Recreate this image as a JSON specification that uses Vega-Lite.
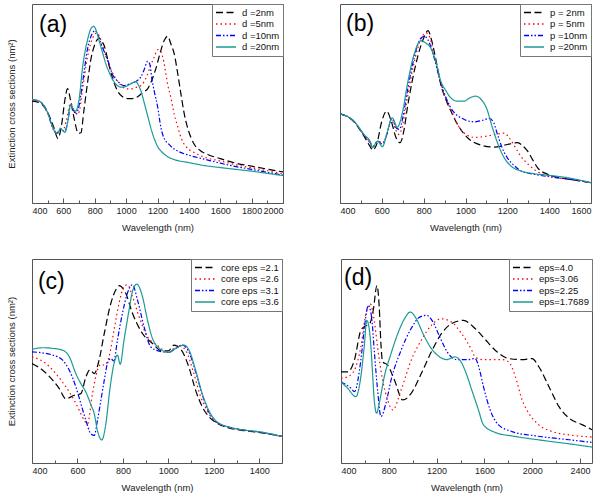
{
  "$schema": "https://vega.github.io/schema/vega-lite/v6.json",
  "padding": {"left": 5, "top": 3, "right": 5, "bottom": 5},
  "background": "white",
  "bounds": "full",
  "spacing": 26,
  "config": {
    "font": "Liberation Sans",
    "view": {"stroke": "#555555", "strokeWidth": 1},
    "axis": {"grid": false, "domain": false, "labelFontSize": 9, "titleFontSize": 9.5, "titleFontWeight": "normal", "labelColor": "#222222", "titleColor": "#222222", "tickColor": "#555555", "labelPadding": 8, "titlePadding": 7},
    "legend": {"orient": "top-right", "offset": 0, "padding": 3, "strokeColor": "#777777", "fillColor": "white", "symbolType": "stroke", "symbolSize": 400, "symbolStrokeWidth": 1.4, "labelFontSize": 9.5, "labelColor": "#111111", "rowPadding": 0.5, "clipHeight": 11, "labelOffset": 5, "cornerRadius": 0}
  },
  "resolve": {"scale": {"x": "independent", "y": "independent", "color": "independent", "strokeDash": "independent"}, "legend": {"color": "independent", "strokeDash": "independent"}},
  "vconcat": [
    {
      "hconcat": [
        {
          "width": 251, "height": 199,
          "encoding": {
            "x": {"field": "w", "type": "quantitative", "scale": {"domain": [400, 2000], "nice": false, "zero": false}, "axis": {"title": "Wavelength (nm)", "values": [400,500,600,700,800,900,1000,1100,1200,1300,1400,1500,1600,1700,1800,1900,2000], "format": "d", "labelExpr": "datum.value % 200 === 0 ? datum.label : ''", "tickSize": {"condition": {"test": "datum.value % 200 === 0", "value": -5}, "value": -3}}},
            "y": {"field": "v", "type": "quantitative", "scale": {"domain": [0, 100], "nice": false, "zero": false}, "axis": {"title": "Extinction cross sections (nm²)", "labels": false, "ticks": false, "domain": false, "titlePadding": 16}}
          },
          "layer": [
            {
              "data": {"values": [
                {"w":400,"v":51.2,"s":"d =2nm"},{"w":450,"v":50.3,"s":"d =2nm"},{"w":500,"v":45.5,"s":"d =2nm"},{"w":540,"v":37.8,"s":"d =2nm"},{"w":565,"v":32.4,"s":"d =2nm"},{"w":590,"v":40,"s":"d =2nm"},{"w":610,"v":52,"s":"d =2nm"},{"w":627,"v":57.5,"s":"d =2nm"},{"w":645,"v":52,"s":"d =2nm"},{"w":670,"v":42,"s":"d =2nm"},{"w":695,"v":35,"s":"d =2nm"},{"w":712,"v":35.3,"s":"d =2nm"},{"w":730,"v":46,"s":"d =2nm"},{"w":754,"v":60.4,"s":"d =2nm"},{"w":775,"v":72,"s":"d =2nm"},{"w":797,"v":78.9,"s":"d =2nm"},{"w":815,"v":82,"s":"d =2nm"},{"w":829,"v":82.9,"s":"d =2nm"},{"w":845,"v":81.3,"s":"d =2nm"},{"w":861,"v":78.9,"s":"d =2nm"},{"w":880,"v":73,"s":"d =2nm"},{"w":893,"v":68.5,"s":"d =2nm"},{"w":920,"v":61.2,"s":"d =2nm"},{"w":946,"v":56.2,"s":"d =2nm"},{"w":975,"v":53.5,"s":"d =2nm"},{"w":1010,"v":52.5,"s":"d =2nm"},{"w":1040,"v":52.5,"s":"d =2nm"},{"w":1074,"v":53.4,"s":"d =2nm"},{"w":1105,"v":55.5,"s":"d =2nm"},{"w":1138,"v":57.5,"s":"d =2nm"},{"w":1165,"v":62,"s":"d =2nm"},{"w":1191,"v":67.9,"s":"d =2nm"},{"w":1220,"v":76.3,"s":"d =2nm"},{"w":1245,"v":82,"s":"d =2nm"},{"w":1265,"v":83.8,"s":"d =2nm"},{"w":1285,"v":80,"s":"d =2nm"},{"w":1307,"v":74.8,"s":"d =2nm"},{"w":1330,"v":64.5,"s":"d =2nm"},{"w":1350,"v":54.5,"s":"d =2nm"},{"w":1370,"v":45,"s":"d =2nm"},{"w":1392,"v":37.8,"s":"d =2nm"},{"w":1415,"v":32.5,"s":"d =2nm"},{"w":1435,"v":29.4,"s":"d =2nm"},{"w":1470,"v":26.5,"s":"d =2nm"},{"w":1520,"v":24.4,"s":"d =2nm"},{"w":1600,"v":22.3,"s":"d =2nm"},{"w":1700,"v":20.0,"s":"d =2nm"},{"w":1800,"v":18.5,"s":"d =2nm"},{"w":1900,"v":17.0,"s":"d =2nm"},{"w":2000,"v":15.6,"s":"d =2nm"},
                {"w":400,"v":51.5,"s":"d =5nm"},{"w":450,"v":50.8,"s":"d =5nm"},{"w":500,"v":45,"s":"d =5nm"},{"w":540,"v":37.2,"s":"d =5nm"},{"w":560,"v":35,"s":"d =5nm"},{"w":580,"v":37,"s":"d =5nm"},{"w":600,"v":37,"s":"d =5nm"},{"w":620,"v":42,"s":"d =5nm"},{"w":646,"v":50.2,"s":"d =5nm"},{"w":665,"v":47,"s":"d =5nm"},{"w":683,"v":45,"s":"d =5nm"},{"w":699,"v":45.5,"s":"d =5nm"},{"w":720,"v":56,"s":"d =5nm"},{"w":754,"v":73.5,"s":"d =5nm"},{"w":790,"v":83.5,"s":"d =5nm"},{"w":814,"v":85.5,"s":"d =5nm"},{"w":835,"v":82.8,"s":"d =5nm"},{"w":860,"v":76.5,"s":"d =5nm"},{"w":882,"v":71.2,"s":"d =5nm"},{"w":910,"v":66,"s":"d =5nm"},{"w":946,"v":61.2,"s":"d =5nm"},{"w":980,"v":58.2,"s":"d =5nm"},{"w":1010,"v":57.3,"s":"d =5nm"},{"w":1031,"v":57.3,"s":"d =5nm"},{"w":1060,"v":58,"s":"d =5nm"},{"w":1095,"v":59,"s":"d =5nm"},{"w":1130,"v":63.5,"s":"d =5nm"},{"w":1159,"v":69.6,"s":"d =5nm"},{"w":1180,"v":73.5,"s":"d =5nm"},{"w":1201,"v":77.1,"s":"d =5nm"},{"w":1220,"v":76.3,"s":"d =5nm"},{"w":1240,"v":71,"s":"d =5nm"},{"w":1265,"v":59.5,"s":"d =5nm"},{"w":1285,"v":53,"s":"d =5nm"},{"w":1307,"v":44.5,"s":"d =5nm"},{"w":1330,"v":38,"s":"d =5nm"},{"w":1350,"v":32.8,"s":"d =5nm"},{"w":1380,"v":28.5,"s":"d =5nm"},{"w":1435,"v":25.3,"s":"d =5nm"},{"w":1500,"v":23.0,"s":"d =5nm"},{"w":1600,"v":21.1,"s":"d =5nm"},{"w":1700,"v":19.2,"s":"d =5nm"},{"w":1800,"v":17.7,"s":"d =5nm"},{"w":1900,"v":16.2,"s":"d =5nm"},{"w":2000,"v":14.7,"s":"d =5nm"},
                {"w":400,"v":52,"s":"d =10nm"},{"w":450,"v":51,"s":"d =10nm"},{"w":500,"v":45.3,"s":"d =10nm"},{"w":530,"v":38,"s":"d =10nm"},{"w":555,"v":35,"s":"d =10nm"},{"w":575,"v":36.5,"s":"d =10nm"},{"w":590,"v":36.5,"s":"d =10nm"},{"w":610,"v":36,"s":"d =10nm"},{"w":628,"v":41,"s":"d =10nm"},{"w":646,"v":48.7,"s":"d =10nm"},{"w":665,"v":46.5,"s":"d =10nm"},{"w":680,"v":44.6,"s":"d =10nm"},{"w":700,"v":49,"s":"d =10nm"},{"w":725,"v":62,"s":"d =10nm"},{"w":754,"v":77.5,"s":"d =10nm"},{"w":780,"v":84.5,"s":"d =10nm"},{"w":801,"v":86.6,"s":"d =10nm"},{"w":820,"v":84.5,"s":"d =10nm"},{"w":840,"v":80,"s":"d =10nm"},{"w":882,"v":72,"s":"d =10nm"},{"w":914,"v":64.5,"s":"d =10nm"},{"w":946,"v":61.2,"s":"d =10nm"},{"w":985,"v":59,"s":"d =10nm"},{"w":1020,"v":59.8,"s":"d =10nm"},{"w":1060,"v":61,"s":"d =10nm"},{"w":1095,"v":63.5,"s":"d =10nm"},{"w":1115,"v":67,"s":"d =10nm"},{"w":1137,"v":71.2,"s":"d =10nm"},{"w":1150,"v":70,"s":"d =10nm"},{"w":1165,"v":62,"s":"d =10nm"},{"w":1180,"v":55.9,"s":"d =10nm"},{"w":1200,"v":48.7,"s":"d =10nm"},{"w":1222,"v":37.8,"s":"d =10nm"},{"w":1245,"v":32,"s":"d =10nm"},{"w":1265,"v":30.1,"s":"d =10nm"},{"w":1300,"v":27.5,"s":"d =10nm"},{"w":1350,"v":25.3,"s":"d =10nm"},{"w":1400,"v":24,"s":"d =10nm"},{"w":1500,"v":22.0,"s":"d =10nm"},{"w":1600,"v":20.0,"s":"d =10nm"},{"w":1700,"v":18.3,"s":"d =10nm"},{"w":1800,"v":16.9,"s":"d =10nm"},{"w":1900,"v":15.4,"s":"d =10nm"},{"w":2000,"v":14.0,"s":"d =10nm"},
                {"w":400,"v":52.0,"s":"d =20nm"},{"w":450,"v":51.0,"s":"d =20nm"},{"w":500,"v":45.3,"s":"d =20nm"},{"w":530,"v":38.6,"s":"d =20nm"},{"w":550,"v":35.3,"s":"d =20nm"},{"w":565,"v":35.0,"s":"d =20nm"},{"w":580,"v":37.6,"s":"d =20nm"},{"w":595,"v":36.5,"s":"d =20nm"},{"w":610,"v":35.5,"s":"d =20nm"},{"w":628,"v":41,"s":"d =20nm"},{"w":645,"v":49.5,"s":"d =20nm"},{"w":660,"v":47.5,"s":"d =20nm"},{"w":678,"v":46.2,"s":"d =20nm"},{"w":700,"v":52,"s":"d =20nm"},{"w":722,"v":67.9,"s":"d =20nm"},{"w":754,"v":82,"s":"d =20nm"},{"w":775,"v":87.5,"s":"d =20nm"},{"w":793,"v":88.8,"s":"d =20nm"},{"w":810,"v":86.5,"s":"d =20nm"},{"w":829,"v":81.3,"s":"d =20nm"},{"w":850,"v":75.5,"s":"d =20nm"},{"w":872,"v":69.6,"s":"d =20nm"},{"w":893,"v":65.5,"s":"d =20nm"},{"w":914,"v":62.0,"s":"d =20nm"},{"w":940,"v":59.3,"s":"d =20nm"},{"w":967,"v":58.2,"s":"d =20nm"},{"w":1000,"v":58.6,"s":"d =20nm"},{"w":1031,"v":60.0,"s":"d =20nm"},{"w":1060,"v":61.0,"s":"d =20nm"},{"w":1080,"v":59,"s":"d =20nm"},{"w":1095,"v":56.2,"s":"d =20nm"},{"w":1115,"v":50.5,"s":"d =20nm"},{"w":1138,"v":43.6,"s":"d =20nm"},{"w":1160,"v":37.0,"s":"d =20nm"},{"w":1180,"v":32.2,"s":"d =20nm"},{"w":1200,"v":28.5,"s":"d =20nm"},{"w":1230,"v":25.5,"s":"d =20nm"},{"w":1260,"v":23.5,"s":"d =20nm"},{"w":1300,"v":22.0,"s":"d =20nm"},{"w":1400,"v":20.3,"s":"d =20nm"},{"w":1500,"v":18.8,"s":"d =20nm"},{"w":1600,"v":17.8,"s":"d =20nm"},{"w":1700,"v":16.9,"s":"d =20nm"},{"w":1800,"v":16.0,"s":"d =20nm"},{"w":1900,"v":14.9,"s":"d =20nm"},{"w":2000,"v":13.8,"s":"d =20nm"}
              ]},
              "mark": {"type": "line", "interpolate": "monotone", "strokeWidth": 1.2, "clip": true},
              "encoding": {
                "color": {"field": "s", "type": "nominal", "scale": {"domain": ["d =2nm", "d =5nm", "d =10nm", "d =20nm"], "range": ["#000000", "#ff0000", "#0000ff", "#1c9a94"]}, "legend": {"title": null}},
                "strokeDash": {"field": "s", "type": "nominal", "scale": {"domain": ["d =2nm", "d =5nm", "d =10nm", "d =20nm"], "range": [[7, 3.5], [1.5, 3], [5, 2, 1.5, 2, 1.5, 2], [1, 0]]}, "legend": {"title": null}}
              }
            },
            {
              "data": {"values": [{"w": 445, "v": 89.4, "t": "(a)"}]},
              "mark": {"type": "text", "fontSize": 23, "align": "left", "baseline": "middle", "color": "#000000"},
              "encoding": {"text": {"field": "t"}}
            }
          ]
        },
        {
          "width": 251, "height": 199,
          "encoding": {
            "x": {"field": "w", "type": "quantitative", "scale": {"domain": [400, 1600], "nice": false, "zero": false}, "axis": {"title": "Wavelength (nm)", "values": [400,500,600,700,800,900,1000,1100,1200,1300,1400,1500,1600], "format": "d", "labelExpr": "datum.value % 200 === 0 ? datum.label : ''", "tickSize": {"condition": {"test": "datum.value % 200 === 0", "value": -5}, "value": -3}}},
            "y": {"field": "v", "type": "quantitative", "scale": {"domain": [0, 100], "nice": false, "zero": false}, "axis": null}
          },
          "layer": [
            {
              "data": {"values": [
                {"w":400,"v":44.8,"s":"p = 2nm"},{"w":467,"v":40.8,"s":"p = 2nm"},{"w":515,"v":33.6,"s":"p = 2nm"},{"w":547,"v":27.8,"s":"p = 2nm"},{"w":555,"v":26.6,"s":"p = 2nm"},{"w":575,"v":29.4,"s":"p = 2nm"},{"w":600,"v":41.1,"s":"p = 2nm"},{"w":623,"v":46.2,"s":"p = 2nm"},{"w":645,"v":41.1,"s":"p = 2nm"},{"w":668,"v":32.8,"s":"p = 2nm"},{"w":687,"v":30.3,"s":"p = 2nm"},{"w":705,"v":36.1,"s":"p = 2nm"},{"w":722,"v":47.8,"s":"p = 2nm"},{"w":745,"v":61.2,"s":"p = 2nm"},{"w":770,"v":72.9,"s":"p = 2nm"},{"w":800,"v":82.9,"s":"p = 2nm"},{"w":821,"v":86.6,"s":"p = 2nm"},{"w":835,"v":82.9,"s":"p = 2nm"},{"w":850,"v":76.3,"s":"p = 2nm"},{"w":866,"v":67.9,"s":"p = 2nm"},{"w":882,"v":59.5,"s":"p = 2nm"},{"w":906,"v":52.0,"s":"p = 2nm"},{"w":930,"v":46.2,"s":"p = 2nm"},{"w":962,"v":39.5,"s":"p = 2nm"},{"w":1010,"v":32.8,"s":"p = 2nm"},{"w":1073,"v":29.1,"s":"p = 2nm"},{"w":1137,"v":28.1,"s":"p = 2nm"},{"w":1201,"v":29.4,"s":"p = 2nm"},{"w":1249,"v":30.3,"s":"p = 2nm"},{"w":1275,"v":28.6,"s":"p = 2nm"},{"w":1297,"v":26.1,"s":"p = 2nm"},{"w":1320,"v":21.9,"s":"p = 2nm"},{"w":1345,"v":17.7,"s":"p = 2nm"},{"w":1393,"v":14.4,"s":"p = 2nm"},{"w":1450,"v":12.7,"s":"p = 2nm"},{"w":1500,"v":11.9,"s":"p = 2nm"},{"w":1600,"v":10.2,"s":"p = 2nm"},
                {"w":400,"v":44.8,"s":"p = 5nm"},{"w":467,"v":41.0,"s":"p = 5nm"},{"w":515,"v":34.1,"s":"p = 5nm"},{"w":547,"v":29.4,"s":"p = 5nm"},{"w":555,"v":27.8,"s":"p = 5nm"},{"w":580,"v":31.1,"s":"p = 5nm"},{"w":603,"v":30.3,"s":"p = 5nm"},{"w":625,"v":34.4,"s":"p = 5nm"},{"w":645,"v":42.0,"s":"p = 5nm"},{"w":665,"v":37.0,"s":"p = 5nm"},{"w":682,"v":34.4,"s":"p = 5nm"},{"w":700,"v":39.5,"s":"p = 5nm"},{"w":722,"v":52.8,"s":"p = 5nm"},{"w":754,"v":70.4,"s":"p = 5nm"},{"w":790,"v":83.1,"s":"p = 5nm"},{"w":811,"v":85.5,"s":"p = 5nm"},{"w":830,"v":83.1,"s":"p = 5nm"},{"w":850,"v":73.9,"s":"p = 5nm"},{"w":882,"v":59.5,"s":"p = 5nm"},{"w":930,"v":46.9,"s":"p = 5nm"},{"w":978,"v":36.8,"s":"p = 5nm"},{"w":1042,"v":33.0,"s":"p = 5nm"},{"w":1090,"v":33.4,"s":"p = 5nm"},{"w":1137,"v":34.3,"s":"p = 5nm"},{"w":1185,"v":35.1,"s":"p = 5nm"},{"w":1210,"v":32.6,"s":"p = 5nm"},{"w":1240,"v":27.6,"s":"p = 5nm"},{"w":1265,"v":23.4,"s":"p = 5nm"},{"w":1300,"v":19.4,"s":"p = 5nm"},{"w":1345,"v":15.7,"s":"p = 5nm"},{"w":1400,"v":13.5,"s":"p = 5nm"},{"w":1500,"v":11.9,"s":"p = 5nm"},{"w":1600,"v":10.2,"s":"p = 5nm"},
                {"w":400,"v":44.8,"s":"p =10nm"},{"w":467,"v":41.0,"s":"p =10nm"},{"w":515,"v":34.1,"s":"p =10nm"},{"w":547,"v":29.8,"s":"p =10nm"},{"w":555,"v":28.1,"s":"p =10nm"},{"w":580,"v":31.1,"s":"p =10nm"},{"w":603,"v":29.6,"s":"p =10nm"},{"w":625,"v":34.8,"s":"p =10nm"},{"w":648,"v":42.5,"s":"p =10nm"},{"w":668,"v":37.8,"s":"p =10nm"},{"w":684,"v":37.0,"s":"p =10nm"},{"w":700,"v":42.8,"s":"p =10nm"},{"w":722,"v":56.2,"s":"p =10nm"},{"w":754,"v":72.9,"s":"p =10nm"},{"w":785,"v":82.6,"s":"p =10nm"},{"w":803,"v":83.8,"s":"p =10nm"},{"w":820,"v":82.1,"s":"p =10nm"},{"w":850,"v":72.9,"s":"p =10nm"},{"w":882,"v":60.4,"s":"p =10nm"},{"w":930,"v":47.8,"s":"p =10nm"},{"w":994,"v":42.0,"s":"p =10nm"},{"w":1042,"v":40.8,"s":"p =10nm"},{"w":1080,"v":41.5,"s":"p =10nm"},{"w":1113,"v":42.5,"s":"p =10nm"},{"w":1135,"v":40.3,"s":"p =10nm"},{"w":1153,"v":34.4,"s":"p =10nm"},{"w":1175,"v":27.8,"s":"p =10nm"},{"w":1200,"v":22.7,"s":"p =10nm"},{"w":1235,"v":18.6,"s":"p =10nm"},{"w":1265,"v":16.1,"s":"p =10nm"},{"w":1330,"v":14.4,"s":"p =10nm"},{"w":1400,"v":13.2,"s":"p =10nm"},{"w":1500,"v":11.9,"s":"p =10nm"},{"w":1600,"v":10.2,"s":"p =10nm"},
                {"w":400,"v":44.8,"s":"p =20nm"},{"w":467,"v":41.1,"s":"p =20nm"},{"w":515,"v":34.4,"s":"p =20nm"},{"w":547,"v":30.3,"s":"p =20nm"},{"w":555,"v":27.8,"s":"p =20nm"},{"w":579,"v":31.1,"s":"p =20nm"},{"w":603,"v":28.3,"s":"p =20nm"},{"w":625,"v":35.3,"s":"p =20nm"},{"w":650,"v":42.8,"s":"p =20nm"},{"w":674,"v":38.1,"s":"p =20nm"},{"w":700,"v":46.2,"s":"p =20nm"},{"w":722,"v":59.5,"s":"p =20nm"},{"w":754,"v":74.6,"s":"p =20nm"},{"w":786,"v":81.6,"s":"p =20nm"},{"w":810,"v":80.4,"s":"p =20nm"},{"w":834,"v":77.9,"s":"p =20nm"},{"w":860,"v":70.4,"s":"p =20nm"},{"w":882,"v":61.2,"s":"p =20nm"},{"w":906,"v":56.5,"s":"p =20nm"},{"w":930,"v":52.8,"s":"p =20nm"},{"w":960,"v":51.2,"s":"p =20nm"},{"w":994,"v":51.2,"s":"p =20nm"},{"w":1020,"v":52.8,"s":"p =20nm"},{"w":1049,"v":53.7,"s":"p =20nm"},{"w":1075,"v":52.0,"s":"p =20nm"},{"w":1100,"v":47.8,"s":"p =20nm"},{"w":1129,"v":37.8,"s":"p =20nm"},{"w":1150,"v":31.1,"s":"p =20nm"},{"w":1169,"v":26.1,"s":"p =20nm"},{"w":1190,"v":21.9,"s":"p =20nm"},{"w":1217,"v":18.6,"s":"p =20nm"},{"w":1265,"v":16.1,"s":"p =20nm"},{"w":1329,"v":14.7,"s":"p =20nm"},{"w":1400,"v":13.9,"s":"p =20nm"},{"w":1488,"v":12.7,"s":"p =20nm"},{"w":1600,"v":10.2,"s":"p =20nm"}
              ]},
              "mark": {"type": "line", "interpolate": "monotone", "strokeWidth": 1.2, "clip": true},
              "encoding": {
                "color": {"field": "s", "type": "nominal", "scale": {"domain": ["p = 2nm", "p = 5nm", "p =10nm", "p =20nm"], "range": ["#000000", "#ff0000", "#0000ff", "#1c9a94"]}, "legend": {"title": null}},
                "strokeDash": {"field": "s", "type": "nominal", "scale": {"domain": ["p = 2nm", "p = 5nm", "p =10nm", "p =20nm"], "range": [[7, 3.5], [1.5, 3], [5, 2, 1.5, 2, 1.5, 2], [1, 0]]}, "legend": {"title": null}}
              }
            },
            {
              "data": {"values": [{"w": 429, "v": 90.2, "t": "(b)"}]},
              "mark": {"type": "text", "fontSize": 23, "align": "left", "baseline": "middle", "color": "#000000"},
              "encoding": {"text": {"field": "t"}}
            }
          ]
        }
      ],
      "spacing": 57,
      "bounds": "flush",
      "resolve": {"scale": {"x": "independent", "y": "independent", "color": "independent", "strokeDash": "independent"}, "legend": {"color": "independent", "strokeDash": "independent"}}
    },
    {
      "hconcat": [
        {
          "width": 250, "height": 204,
          "encoding": {
            "x": {"field": "w", "type": "quantitative", "scale": {"domain": [400, 1500], "nice": false, "zero": false}, "axis": {"title": "Wavelength (nm)", "values": [400,500,600,700,800,900,1000,1100,1200,1300,1400,1500], "format": "d", "labelExpr": "datum.value % 200 === 0 ? datum.label : ''", "tickSize": {"condition": {"test": "datum.value % 200 === 0", "value": -5}, "value": -3}}},
            "y": {"field": "v", "type": "quantitative", "scale": {"domain": [0, 100], "nice": false, "zero": false}, "axis": {"title": "Extinction cross sections (nm²)", "labels": false, "ticks": false, "domain": false, "titlePadding": 16}}
          },
          "layer": [
            {
              "data": {"values": [
                {"w":400,"v":48.8,"s":"core eps =2.1"},{"w":447,"v":45.5,"s":"core eps =2.1"},{"w":491,"v":40.6,"s":"core eps =2.1"},{"w":520,"v":36.5,"s":"core eps =2.1"},{"w":549,"v":31.5,"s":"core eps =2.1"},{"w":586,"v":33.2,"s":"core eps =2.1"},{"w":615,"v":34.0,"s":"core eps =2.1"},{"w":637,"v":42.2,"s":"core eps =2.1"},{"w":655,"v":45.7,"s":"core eps =2.1"},{"w":674,"v":43.8,"s":"core eps =2.1"},{"w":695,"v":50.4,"s":"core eps =2.1"},{"w":718,"v":63.5,"s":"core eps =2.1"},{"w":747,"v":78.3,"s":"core eps =2.1"},{"w":769,"v":84.9,"s":"core eps =2.1"},{"w":783,"v":86.9,"s":"core eps =2.1"},{"w":812,"v":83.3,"s":"core eps =2.1"},{"w":842,"v":73.4,"s":"core eps =2.1"},{"w":886,"v":63.5,"s":"core eps =2.1"},{"w":930,"v":58.6,"s":"core eps =2.1"},{"w":970,"v":55.0,"s":"core eps =2.1"},{"w":1000,"v":55.0,"s":"core eps =2.1"},{"w":1025,"v":57.8,"s":"core eps =2.1"},{"w":1055,"v":55.7,"s":"core eps =2.1"},{"w":1090,"v":47.1,"s":"core eps =2.1"},{"w":1120,"v":35.6,"s":"core eps =2.1"},{"w":1150,"v":27.4,"s":"core eps =2.1"},{"w":1180,"v":22.5,"s":"core eps =2.1"},{"w":1207,"v":20.0,"s":"core eps =2.1"},{"w":1266,"v":17.2,"s":"core eps =2.1"},{"w":1325,"v":16.0,"s":"core eps =2.1"},{"w":1412,"v":14.8,"s":"core eps =2.1"},{"w":1500,"v":13.0,"s":"core eps =2.1"},
                {"w":400,"v":52.1,"s":"core eps =2.6"},{"w":461,"v":48.8,"s":"core eps =2.6"},{"w":505,"v":43.8,"s":"core eps =2.6"},{"w":549,"v":37.3,"s":"core eps =2.6"},{"w":586,"v":30.7,"s":"core eps =2.6"},{"w":608,"v":25.8,"s":"core eps =2.6"},{"w":630,"v":20.9,"s":"core eps =2.6"},{"w":644,"v":19.2,"s":"core eps =2.6"},{"w":666,"v":34.0,"s":"core eps =2.6"},{"w":688,"v":45.5,"s":"core eps =2.6"},{"w":703,"v":48.4,"s":"core eps =2.6"},{"w":718,"v":47.9,"s":"core eps =2.6"},{"w":739,"v":52.1,"s":"core eps =2.6"},{"w":761,"v":65.2,"s":"core eps =2.6"},{"w":783,"v":78.3,"s":"core eps =2.6"},{"w":805,"v":86.5,"s":"core eps =2.6"},{"w":820,"v":87.4,"s":"core eps =2.6"},{"w":842,"v":81.6,"s":"core eps =2.6"},{"w":871,"v":71.8,"s":"core eps =2.6"},{"w":908,"v":61.9,"s":"core eps =2.6"},{"w":950,"v":57.8,"s":"core eps =2.6"},{"w":1000,"v":54.2,"s":"core eps =2.6"},{"w":1045,"v":57.8,"s":"core eps =2.6"},{"w":1080,"v":54.5,"s":"core eps =2.6"},{"w":1110,"v":44.7,"s":"core eps =2.6"},{"w":1140,"v":33.2,"s":"core eps =2.6"},{"w":1170,"v":25.8,"s":"core eps =2.6"},{"w":1200,"v":20.9,"s":"core eps =2.6"},{"w":1266,"v":17.6,"s":"core eps =2.6"},{"w":1325,"v":16.2,"s":"core eps =2.6"},{"w":1412,"v":14.9,"s":"core eps =2.6"},{"w":1500,"v":13.0,"s":"core eps =2.6"},
                {"w":400,"v":54.5,"s":"core eps =3.1"},{"w":491,"v":52.9,"s":"core eps =3.1"},{"w":535,"v":50.4,"s":"core eps =3.1"},{"w":564,"v":45.5,"s":"core eps =3.1"},{"w":593,"v":37.3,"s":"core eps =3.1"},{"w":615,"v":29.1,"s":"core eps =3.1"},{"w":637,"v":20.9,"s":"core eps =3.1"},{"w":659,"v":14.3,"s":"core eps =3.1"},{"w":674,"v":13.5,"s":"core eps =3.1"},{"w":688,"v":20.9,"s":"core eps =3.1"},{"w":703,"v":30.7,"s":"core eps =3.1"},{"w":718,"v":40.6,"s":"core eps =3.1"},{"w":732,"v":48.8,"s":"core eps =3.1"},{"w":747,"v":51.2,"s":"core eps =3.1"},{"w":760,"v":50.0,"s":"core eps =3.1"},{"w":776,"v":60.3,"s":"core eps =3.1"},{"w":798,"v":73.4,"s":"core eps =3.1"},{"w":820,"v":83.3,"s":"core eps =3.1"},{"w":842,"v":87.4,"s":"core eps =3.1"},{"w":864,"v":80.0,"s":"core eps =3.1"},{"w":893,"v":66.8,"s":"core eps =3.1"},{"w":922,"v":57.0,"s":"core eps =3.1"},{"w":960,"v":54.8,"s":"core eps =3.1"},{"w":1000,"v":54.2,"s":"core eps =3.1"},{"w":1030,"v":56.0,"s":"core eps =3.1"},{"w":1062,"v":57.8,"s":"core eps =3.1"},{"w":1090,"v":54.5,"s":"core eps =3.1"},{"w":1120,"v":44.7,"s":"core eps =3.1"},{"w":1150,"v":33.2,"s":"core eps =3.1"},{"w":1178,"v":25.0,"s":"core eps =3.1"},{"w":1207,"v":20.4,"s":"core eps =3.1"},{"w":1266,"v":17.6,"s":"core eps =3.1"},{"w":1325,"v":16.3,"s":"core eps =3.1"},{"w":1412,"v":15.0,"s":"core eps =3.1"},{"w":1500,"v":13.0,"s":"core eps =3.1"},
                {"w":400,"v":55.7,"s":"core eps =3.6"},{"w":447,"v":56.5,"s":"core eps =3.6"},{"w":491,"v":56.2,"s":"core eps =3.6"},{"w":535,"v":55.3,"s":"core eps =3.6"},{"w":564,"v":52.1,"s":"core eps =3.6"},{"w":593,"v":43.8,"s":"core eps =3.6"},{"w":615,"v":38.9,"s":"core eps =3.6"},{"w":637,"v":34.8,"s":"core eps =3.6"},{"w":659,"v":28.6,"s":"core eps =3.6"},{"w":674,"v":24.1,"s":"core eps =3.6"},{"w":688,"v":15.9,"s":"core eps =3.6"},{"w":707,"v":11.3,"s":"core eps =3.6"},{"w":725,"v":19.2,"s":"core eps =3.6"},{"w":742,"v":35.6,"s":"core eps =3.6"},{"w":761,"v":48.8,"s":"core eps =3.6"},{"w":776,"v":52.9,"s":"core eps =3.6"},{"w":788,"v":48.4,"s":"core eps =3.6"},{"w":805,"v":60.3,"s":"core eps =3.6"},{"w":827,"v":75.0,"s":"core eps =3.6"},{"w":842,"v":84.1,"s":"core eps =3.6"},{"w":861,"v":87.7,"s":"core eps =3.6"},{"w":886,"v":81.6,"s":"core eps =3.6"},{"w":908,"v":70.1,"s":"core eps =3.6"},{"w":930,"v":61.1,"s":"core eps =3.6"},{"w":960,"v":56.2,"s":"core eps =3.6"},{"w":988,"v":54.5,"s":"core eps =3.6"},{"w":1003,"v":54.2,"s":"core eps =3.6"},{"w":1032,"v":56.2,"s":"core eps =3.6"},{"w":1069,"v":57.8,"s":"core eps =3.6"},{"w":1091,"v":55.3,"s":"core eps =3.6"},{"w":1120,"v":45.5,"s":"core eps =3.6"},{"w":1149,"v":34.0,"s":"core eps =3.6"},{"w":1178,"v":25.8,"s":"core eps =3.6"},{"w":1207,"v":20.9,"s":"core eps =3.6"},{"w":1266,"v":17.6,"s":"core eps =3.6"},{"w":1325,"v":16.3,"s":"core eps =3.6"},{"w":1412,"v":15.1,"s":"core eps =3.6"},{"w":1500,"v":13.0,"s":"core eps =3.6"}
              ]},
              "mark": {"type": "line", "interpolate": "monotone", "strokeWidth": 1.2, "clip": true},
              "encoding": {
                "color": {"field": "s", "type": "nominal", "scale": {"domain": ["core eps =2.1", "core eps =2.6", "core eps =3.1", "core eps =3.6"], "range": ["#000000", "#ff0000", "#0000ff", "#1c9a94"]}, "legend": {"title": null}},
                "strokeDash": {"field": "s", "type": "nominal", "scale": {"domain": ["core eps =2.1", "core eps =2.6", "core eps =3.1", "core eps =3.6"], "range": [[7, 3.5], [1.5, 3], [5, 2, 1.5, 2, 1.5, 2], [1, 0]]}, "legend": {"title": null}}
              }
            },
            {
              "data": {"values": [{"w": 426, "v": 88.7, "t": "(c)"}]},
              "mark": {"type": "text", "fontSize": 23, "align": "left", "baseline": "middle", "color": "#000000"},
              "encoding": {"text": {"field": "t"}}
            }
          ]
        },
        {
          "width": 251, "height": 204,
          "encoding": {
            "x": {"field": "w", "type": "quantitative", "scale": {"domain": [400, 2500], "nice": false, "zero": false}, "axis": {"title": "Wavelength (nm)", "values": [400,600,800,1000,1200,1400,1600,1800,2000,2200,2400], "format": "d", "labelExpr": "datum.value % 400 === 0 ? datum.label : ''", "tickSize": {"condition": {"test": "datum.value % 400 === 0", "value": -5}, "value": -3}}},
            "y": {"field": "v", "type": "quantitative", "scale": {"domain": [0, 100], "nice": false, "zero": false}, "axis": null}
          },
          "layer": [
            {
              "data": {"values": [
                {"w":400,"v":44.7,"s":"eps=4.0"},{"w":456,"v":44.7,"s":"eps=4.0"},{"w":512,"v":50.4,"s":"eps=4.0"},{"w":566,"v":65.0,"s":"eps=4.0"},{"w":600,"v":67.0,"s":"eps=4.0"},{"w":640,"v":68.3,"s":"eps=4.0"},{"w":670,"v":75,"s":"eps=4.0"},{"w":701,"v":87.0,"s":"eps=4.0"},{"w":720,"v":76.4,"s":"eps=4.0"},{"w":734,"v":58.5,"s":"eps=4.0"},{"w":748,"v":49.6,"s":"eps=4.0"},{"w":790,"v":48.0,"s":"eps=4.0"},{"w":847,"v":40.7,"s":"eps=4.0"},{"w":917,"v":30.9,"s":"eps=4.0"},{"w":987,"v":34.1,"s":"eps=4.0"},{"w":1072,"v":43.9,"s":"eps=4.0"},{"w":1156,"v":54.5,"s":"eps=4.0"},{"w":1240,"v":63.4,"s":"eps=4.0"},{"w":1325,"v":68.3,"s":"eps=4.0"},{"w":1423,"v":69.9,"s":"eps=4.0"},{"w":1522,"v":65.9,"s":"eps=4.0"},{"w":1600,"v":61.0,"s":"eps=4.0"},{"w":1690,"v":55.3,"s":"eps=4.0"},{"w":1802,"v":51.2,"s":"eps=4.0"},{"w":1915,"v":50.7,"s":"eps=4.0"},{"w":1999,"v":51.2,"s":"eps=4.0"},{"w":2055,"v":47.2,"s":"eps=4.0"},{"w":2140,"v":37.4,"s":"eps=4.0"},{"w":2224,"v":27.6,"s":"eps=4.0"},{"w":2308,"v":22.0,"s":"eps=4.0"},{"w":2421,"v":18.7,"s":"eps=4.0"},{"w":2500,"v":16.3,"s":"eps=4.0"},
                {"w":400,"v":41.5,"s":"eps=3.06"},{"w":456,"v":42.3,"s":"eps=3.06"},{"w":512,"v":45.5,"s":"eps=3.06"},{"w":566,"v":56.9,"s":"eps=3.06"},{"w":608,"v":73.2,"s":"eps=3.06"},{"w":644,"v":78.0,"s":"eps=3.06"},{"w":678,"v":69.9,"s":"eps=3.06"},{"w":706,"v":56.9,"s":"eps=3.06"},{"w":748,"v":40.7,"s":"eps=3.06"},{"w":790,"v":30.9,"s":"eps=3.06"},{"w":833,"v":26.0,"s":"eps=3.06"},{"w":903,"v":35.8,"s":"eps=3.06"},{"w":987,"v":50.4,"s":"eps=3.06"},{"w":1072,"v":60.2,"s":"eps=3.06"},{"w":1156,"v":67.5,"s":"eps=3.06"},{"w":1240,"v":70.7,"s":"eps=3.06"},{"w":1325,"v":69.1,"s":"eps=3.06"},{"w":1409,"v":63.4,"s":"eps=3.06"},{"w":1494,"v":55.3,"s":"eps=3.06"},{"w":1521,"v":52.0,"s":"eps=3.06"},{"w":1580,"v":50.7,"s":"eps=3.06"},{"w":1690,"v":50.7,"s":"eps=3.06"},{"w":1746,"v":50.7,"s":"eps=3.06"},{"w":1802,"v":49.6,"s":"eps=3.06"},{"w":1859,"v":42.3,"s":"eps=3.06"},{"w":1915,"v":30.9,"s":"eps=3.06"},{"w":1971,"v":24.4,"s":"eps=3.06"},{"w":2055,"v":18.7,"s":"eps=3.06"},{"w":2168,"v":15.4,"s":"eps=3.06"},{"w":2308,"v":13.8,"s":"eps=3.06"},{"w":2500,"v":12.7,"s":"eps=3.06"},
                {"w":400,"v":39.8,"s":"eps=2.25"},{"w":484,"v":36.6,"s":"eps=2.25"},{"w":512,"v":35.0,"s":"eps=2.25"},{"w":566,"v":50.4,"s":"eps=2.25"},{"w":600,"v":68.3,"s":"eps=2.25"},{"w":628,"v":77.2,"s":"eps=2.25"},{"w":656,"v":71.5,"s":"eps=2.25"},{"w":678,"v":55.3,"s":"eps=2.25"},{"w":706,"v":35.8,"s":"eps=2.25"},{"w":734,"v":22.8,"s":"eps=2.25"},{"w":776,"v":29.3,"s":"eps=2.25"},{"w":819,"v":40.7,"s":"eps=2.25"},{"w":903,"v":55.3,"s":"eps=2.25"},{"w":987,"v":65.9,"s":"eps=2.25"},{"w":1058,"v":71.5,"s":"eps=2.25"},{"w":1114,"v":72.4,"s":"eps=2.25"},{"w":1170,"v":69.1,"s":"eps=2.25"},{"w":1226,"v":61.8,"s":"eps=2.25"},{"w":1297,"v":53.7,"s":"eps=2.25"},{"w":1367,"v":50.7,"s":"eps=2.25"},{"w":1465,"v":50.7,"s":"eps=2.25"},{"w":1522,"v":51.2,"s":"eps=2.25"},{"w":1560,"v":45.5,"s":"eps=2.25"},{"w":1592,"v":37.4,"s":"eps=2.25"},{"w":1648,"v":26.0,"s":"eps=2.25"},{"w":1718,"v":18.7,"s":"eps=2.25"},{"w":1831,"v":15.4,"s":"eps=2.25"},{"w":2027,"v":13.3,"s":"eps=2.25"},{"w":2308,"v":11.4,"s":"eps=2.25"},{"w":2500,"v":10.1,"s":"eps=2.25"},
                {"w":400,"v":39.8,"s":"eps=1.7689"},{"w":456,"v":36.6,"s":"eps=1.7689"},{"w":524,"v":32.5,"s":"eps=1.7689"},{"w":566,"v":42.3,"s":"eps=1.7689"},{"w":594,"v":56.9,"s":"eps=1.7689"},{"w":616,"v":69.9,"s":"eps=1.7689"},{"w":644,"v":61.8,"s":"eps=1.7689"},{"w":664,"v":43.9,"s":"eps=1.7689"},{"w":678,"v":30.9,"s":"eps=1.7689"},{"w":698,"v":24.4,"s":"eps=1.7689"},{"w":720,"v":29.3,"s":"eps=1.7689"},{"w":762,"v":42.3,"s":"eps=1.7689"},{"w":819,"v":53.7,"s":"eps=1.7689"},{"w":875,"v":63.4,"s":"eps=1.7689"},{"w":931,"v":70.7,"s":"eps=1.7689"},{"w":979,"v":74.0,"s":"eps=1.7689"},{"w":1030,"v":70.7,"s":"eps=1.7689"},{"w":1086,"v":63.4,"s":"eps=1.7689"},{"w":1156,"v":56.1,"s":"eps=1.7689"},{"w":1226,"v":52.0,"s":"eps=1.7689"},{"w":1283,"v":50.7,"s":"eps=1.7689"},{"w":1353,"v":52.0,"s":"eps=1.7689"},{"w":1395,"v":50.4,"s":"eps=1.7689"},{"w":1437,"v":45.5,"s":"eps=1.7689"},{"w":1494,"v":35.8,"s":"eps=1.7689"},{"w":1550,"v":26.0,"s":"eps=1.7689"},{"w":1592,"v":18.7,"s":"eps=1.7689"},{"w":1690,"v":15.0,"s":"eps=1.7689"},{"w":1859,"v":13.0,"s":"eps=1.7689"},{"w":2084,"v":11.1,"s":"eps=1.7689"},{"w":2308,"v":9.4,"s":"eps=1.7689"},{"w":2500,"v":7.8,"s":"eps=1.7689"}
              ]},
              "mark": {"type": "line", "interpolate": "monotone", "strokeWidth": 1.2, "clip": true},
              "encoding": {
                "color": {"field": "s", "type": "nominal", "scale": {"domain": ["eps=4.0", "eps=3.06", "eps=2.25", "eps=1.7689"], "range": ["#000000", "#ff0000", "#0000ff", "#1c9a94"]}, "legend": {"title": null}},
                "strokeDash": {"field": "s", "type": "nominal", "scale": {"domain": ["eps=4.0", "eps=3.06", "eps=2.25", "eps=1.7689"], "range": [[7, 3.5], [1.5, 3], [5, 2, 1.5, 2, 1.5, 2], [1, 0]]}, "legend": {"title": null}}
              }
            },
            {
              "data": {"values": [{"w": 425, "v": 90.7, "t": "(d)"}]},
              "mark": {"type": "text", "fontSize": 23, "align": "left", "baseline": "middle", "color": "#000000"},
              "encoding": {"text": {"field": "t"}}
            }
          ]
        }
      ],
      "spacing": 59,
      "bounds": "flush",
      "resolve": {"scale": {"x": "independent", "y": "independent", "color": "independent", "strokeDash": "independent"}, "legend": {"color": "independent", "strokeDash": "independent"}}
    }
  ]
}
